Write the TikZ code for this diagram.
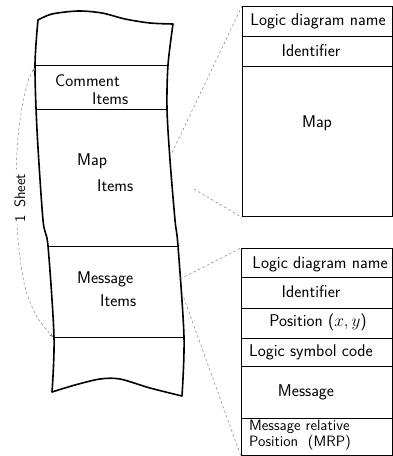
\documentclass[tikz,border=0pt]{standalone}
\usetikzlibrary{arrows.meta}
\tikzset{
  sheetline/.style={line width=1.6pt, line join=round},
  cellline/.style={line width=0.8pt},
  boxline/.style={draw, line width=1.4pt, inner sep=0pt, anchor=north west},
  projline/.style={gray, line width=0.5pt, dash pattern=on 2.5pt off 2.5pt},
  txt/.style={font=\fontsize{17}{19}\selectfont\sffamily, inner sep=0pt},
  smalltxt/.style={font=\fontsize{15}{15}\selectfont\sffamily, inner sep=0pt, anchor=west},
}

\begin{document}
\begin{tikzpicture}[x=1pt,y=-1pt]
    \useasboundingbox (0,0) rectangle (393,456);
    \draw[sheetline] plot[smooth] coordinates {(38,20) (52,14) (78,11) (102,13) (125,19) (150,23) (173,24)}
        -- plot[smooth] coordinates {(173,24) (168,65) (167,109) (170,160) (175,220) (178,246) (184,337) (182,396)}
        -- plot[smooth] coordinates {(182,396) (150,388) (120,379) (100,379) (75,385) (52,392)}
        -- plot[smooth] coordinates {(52,392) (54,337) (48,246) (43,220) (37,130) (35,65) (38,20)} -- cycle;
    \draw[cellline] (35,65) -- (168,65);
    \draw[cellline] (36,109) -- (167,109);
    \draw[cellline] (48,246) -- (178,246);
    \draw[cellline] (54,337) -- (184,337);
    \node[txt,anchor=west] at (55,81) (comment){Comment};
    \node[txt,anchor=west] at (92,99) (commentitems){Items};
    \node[txt,anchor=west] at (77,161) (map){Map};
    \node[txt,anchor=west] at (97,186) (mapitems){Items};
    \node[txt,anchor=west] at (77,279) (message){Message};
    \node[txt,anchor=west] at (100,301) (messageitems){Items};

    \coordinate (sheettop) at (35,68);
    \coordinate (sheetbottom) at (53,337);
    \draw[projline,{Stealth[length=4pt,width=3pt]}-{Stealth[length=4pt,width=3pt]}]
        plot[smooth] coordinates {(sheettop) (27,85) (19,127) (16,180) (18,240) (25,287) (37,317) (sheetbottom)};
    \node[txt,rotate=90,fill=white,inner sep=1.5pt,font=\fontsize{15}{15}\selectfont\sffamily] at (20,198) (onesheet){1\hspace{7pt}Sheet};

    \node[boxline,minimum width=150pt,minimum height=210pt] at (242,6) (mapbox){};
    \draw[cellline] (242,36) -- (392,36);
    \draw[cellline] (242,66) -- (392,66);
    \node[txt] at (318,21) (mapname){Logic diagram name};
    \node[txt] at (311,51) (mapid){Identifier};
    \node[txt] at (317,123) (mapcell){Map};

    \node[boxline,minimum width=151pt,minimum height=207pt] at (241,248) (msgbox){};
    \draw[cellline] (241,277) -- (392,277);
    \draw[cellline] (241,308) -- (392,308);
    \draw[cellline] (241,338) -- (392,338);
    \draw[cellline] (241,366) -- (392,366);
    \draw[cellline] (241,418) -- (392,418);
    \node[txt] at (320,264) (msgname){Logic diagram name};
    \node[txt] at (311,292) (msgid){Identifier};
    \node[txt] at (318,322) (msgpos){Position ($x,y$)};
    \node[txt,anchor=west] at (249,352) (msgcode){Logic symbol code};
    \node[txt] at (306,392) (msgcell){Message};
    \node[smalltxt] at (249,427) (mrp1){Message relative};
    \node[smalltxt] at (249,443) (mrp2){Position\ \ (MRP)};

    \coordinate (mapfrom) at (170,157);
    \coordinate (mapfromlow) at (194,189);
    \coordinate (msgfrom) at (180,279);
    \coordinate (msgfromlow) at (182,293);
    \draw[projline] (mapfrom) -- (mapbox.north west);
    \draw[projline] (mapfromlow) -- (mapbox.south west);
    \draw[projline] (msgfrom) -- (msgbox.north west);
    \draw[projline] (msgfromlow) -- (msgbox.south west);
\end{tikzpicture}
\end{document}
